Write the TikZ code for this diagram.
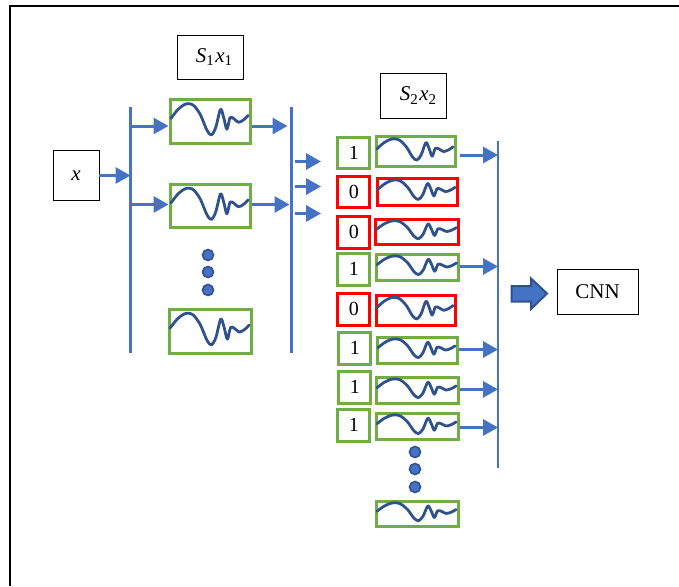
\documentclass[tikz,border=0pt]{standalone}
\usepackage{fontspec}
\setmainfont{Liberation Serif}
\usetikzlibrary{arrows.meta,calc}
\definecolor{flow}{HTML}{4472C4}
\definecolor{deep}{HTML}{2F528F}
\definecolor{okgreen}{HTML}{70AD47}
\definecolor{badred}{HTML}{FF0000}
\newcommand{\Tsub}[1]{\raisebox{-3.5pt}{\fontsize{15}{15}\selectfont #1}}
\newcommand{\Sx}[1]{{\itshape S}\Tsub{#1}\hspace{1.5pt}{\itshape x}\Tsub{#1}}
% name, x0, y0, x1, y1, colour
\newcommand{\wavebox}[6]{%
  \pgfmathsetmacro{\wbw}{#4-#2}\pgfmathsetmacro{\wbh}{#5-#3}%
  \node[signalbox,draw=#6,minimum width=\wbw pt,minimum height=\wbh pt] (#1) at ({(#2+#4)/2},{(#3+#5)/2}) {};
  \begin{scope}[shift={(#1.north west)},x=\wbw pt,y=-\wbh pt]
    \draw[wave] plot[smooth,tension=0.5] coordinates {(.03,.47) (.12,.26) (.20,.15) (.26,.13) (.32,.18) (.40,.39) (.48,.74) (.535,.85) (.59,.68) (.65,.26) (.69,.45) (.73,.72) (.77,.45) (.82,.48) (.875,.56) (.94,.50) (.995,.40)};
  \end{scope}}
% name, x0, y0, x1, y1, colour, text
\newcommand{\flagbox}[7]{%
  \pgfmathsetmacro{\wbw}{#4-#2}\pgfmathsetmacro{\wbh}{#5-#3}%
  \node[bitbox,draw=#6,minimum width=\wbw pt,minimum height=\wbh pt] (#1) at ({(#2+#4)/2},{(#3+#5)/2}) {\hspace*{1.5pt}#7};}
\tikzset{
  x=1pt,y=-1pt,
  signalbox/.style={rectangle,line width=3pt,inner sep=0pt},
  bitbox/.style={rectangle,line width=3pt,inner sep=0pt,font=\fontsize{20}{20}\selectfont},
  labelbox/.style={rectangle,draw=black,line width=0.9pt,inner sep=0pt,font=\fontsize{21}{21}\selectfont},
  wave/.style={draw=deep,line width=2.8pt,line cap=round,line join=round},
  bus/.style={draw=flow,line width=2.7pt},
  arr/.style={draw=flow,line width=3pt,-{Triangle[length=15pt,width=16pt]}},
  dot/.style={circle,fill=flow,draw=deep,line width=1.6pt,inner sep=0pt,minimum size=11pt},
  blockarrow/.style={fill=flow,draw=deep,line width=2pt,line join=miter},
  frame/.style={draw=black,line width=1.8pt}
}
\begin{document}
\begin{tikzpicture}
\useasboundingbox (0,0) rectangle (679,586);
\draw[frame] (10,586) -- (10,6) -- (679,6);
% labels
\node[labelbox,minimum width=66pt,minimum height=44pt] (s1) at (210,57) {\hspace*{8pt}\Sx{1}};
\node[labelbox,minimum width=66pt,minimum height=45pt] (s2) at (413,95.5) {\hspace*{10pt}\Sx{2}};
\node[labelbox,minimum width=46pt,minimum height=50pt] (x) at (76,175.5) {\itshape x};
\node[labelbox,minimum width=81pt,minimum height=45pt] (cnn) at (597.5,291.5) {CNN};
% buses
\coordinate (b1t) at (130.5,107); \coordinate (b1b) at (130.5,353);
\coordinate (b2t) at (291.5,107); \coordinate (b2b) at (291.5,353);
\coordinate (b3t) at (498,141);   \coordinate (b3b) at (498,468);
\draw[bus] (b1t) -- (b1b);
\draw[bus] (b2t) -- (b2b);
\draw[bus] (b3t) -- (b3b);
% first layer
\wavebox{wa}{170}{99.5}{250}{143}{okgreen}
\wavebox{wb}{170}{184}{250}{227.5}{okgreen}
\wavebox{wc}{169}{309}{251}{353}{okgreen}
\node[dot] (da1) at (208,255) {};
\node[dot] (da2) at (208,272) {};
\node[dot] (da3) at (208,290) {};
\draw[arr] (x.east) -- (x.east -| b1t);
\draw[arr] ($(wa.west |- 0,126)-(37,0)$) -- (wa.west |- 0,126);
\draw[arr] ($(wb.west |- 0,204.5)-(37,0)$) -- (wb.west |- 0,204.5);
\draw[arr] (wa.east |- 0,126) -- ($(b2t |- 0,126)-(4,0)$);
\draw[arr] (wb.east |- 0,204.5) -- ($(b2t |- 0,204.5)-(2,0)$);
% middle arrows
\coordinate (m1) at (321,161.5); \coordinate (m2) at (321,186.5); \coordinate (m3) at (321,213.5);
\draw[arr] ($(m1 -| b2t)+(3.5,0)$) -- (m1);
\draw[arr] ($(m2 -| b2t)+(3.5,0)$) -- (m2);
\draw[arr] ($(m3 -| b2t)+(3.5,0)$) -- (m3);
% second layer flags
\flagbox{f1}{337}{137}{369}{168}{okgreen}{1}
\flagbox{f2}{337}{176}{369}{207}{badred}{0}
\flagbox{f3}{337}{216}{369}{248}{badred}{0}
\flagbox{f4}{337}{253}{369}{285}{okgreen}{1}
\flagbox{f5}{337}{293}{369}{325}{badred}{0}
\flagbox{f6}{338}{332}{370}{364}{okgreen}{1}
\flagbox{f7}{338}{371}{370}{403}{okgreen}{1}
\flagbox{f8}{337}{409}{369}{441}{okgreen}{1}
% second layer signals
\wavebox{w1}{376}{136.5}{455}{166}{okgreen}
\wavebox{w2}{377}{178}{457}{205}{badred}
\wavebox{w3}{375.5}{219}{458.5}{244}{badred}
\wavebox{w4}{376}{254}{458.5}{280}{okgreen}
\wavebox{w5}{376}{295}{455}{325}{badred}
\wavebox{w6}{377}{337}{457}{363}{okgreen}
\wavebox{w7}{376}{377}{458}{403}{okgreen}
\wavebox{w8}{376}{413}{458}{439}{okgreen}
\wavebox{w9}{376}{501}{458}{526}{okgreen}
\node[dot] (db1) at (415,452) {};
\node[dot] (db2) at (415,469) {};
\node[dot] (db3) at (415,487) {};
\draw[arr] ($(w1.east |- 0,155)+(3,0)$) -- (b3t |- 0,155);
\draw[arr] (w4.east |- 0,266.5) -- (b3t |- 0,266.5);
\draw[arr] (w6.east |- 0,349.5) -- (b3t |- 0,349.5);
\draw[arr] (w7.east |- 0,389.4) -- (b3t |- 0,389.4);
\draw[arr] (w8.east |- 0,427.5) -- (b3t |- 0,427.5);
% block arrow
\draw[blockarrow] (511.5,286) -- (531,286) -- (531,278.5) -- (547,293.5) -- (531,309) -- (531,301.5) -- (511.5,301.5) -- cycle;
\end{tikzpicture}
\end{document}
